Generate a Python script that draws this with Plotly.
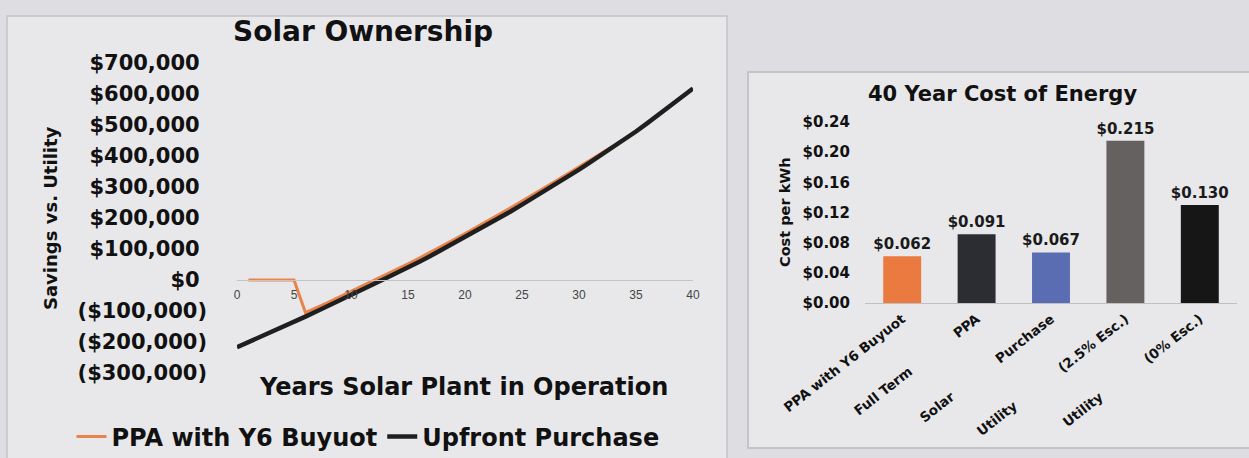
import plotly.graph_objects as go

W, H = 1249, 458

# ---------------- data: left chart (thousands of $) ----------------
years_upfront = list(range(0, 41))
upfront_k = [-217, -201, -185, -168, -152, -135, -118, -101, -84, -66,
             -49, -31, -13, 5, 22, 40, 59, 78, 98, 118,
             138, 158, 179, 200, 221, 243, 265, 287, 310, 333,
             356, 380, 404, 428, 453, 479, 506, 534, 562, 590, 618]
years_ppa = list(range(1, 41))
ppa_k = [0, 0, 0, 0, 0, -105, -89, -72, -54, -37,
         -19, -1, 17, 34, 52, 71, 90, 110, 130, 150,
         170, 191, 212, 233, 254, 276, 298, 320, 342, 364,
         387, 410, 432, 456, 481, 507, 534, 562, 590, 618]

savings_tickvals = [700000, 600000, 500000, 400000, 300000, 200000, 100000, 0,
                    -100000, -200000, -300000]
savings_ticktext = ["$700,000", "$600,000", "$500,000", "$400,000", "$300,000",
                    "$200,000", "$100,000", "$0", "($100,000)", "($200,000)",
                    "($300,000)"]
year_tickvals = [0, 5, 10, 15, 20, 25, 30, 35, 40]

# ---------------- data: right chart ----------------
NB = "\u00a0" * 12
cost_categories = ["PPA with Y6 Buyuot", "Full Term" + NB + "PPA",
                   "Solar" + NB + "Purchase", "Utility" + NB + "(2.5% Esc.)",
                   "Utility" + NB + "(0% Esc.)"]
cost_values = [0.062, 0.091, 0.067, 0.215, 0.130]
cost_labels = ["$0.062", "$0.091", "$0.067", "$0.215", "$0.130"]
cost_colors = ["#EA7A40", "#2B2D32", "#5A6DB3", "#656160", "#161616"]
cost_tickvals = [0, 0.04, 0.08, 0.12, 0.16, 0.20, 0.24]
cost_ticktext = ["$0.00", "$0.04", "$0.08", "$0.12", "$0.16", "$0.20", "$0.24"]


def px(x):
    return x / W


def py(y):
    return 1 - y / H


FONT = "DejaVu Sans"
pad = "\u00a0"

fig = go.Figure()

fig.add_trace(go.Scatter(
    x=years_ppa, y=[v * 1000 for v in ppa_k], mode="lines",
    name="PPA with Y6 Buyuot", line=dict(color="#E8834A", width=3),
    xaxis="x", yaxis="y"))
fig.add_trace(go.Scatter(
    x=years_upfront, y=[v * 1000 for v in upfront_k], mode="lines",
    name="Upfront Purchase", line=dict(color="#1f1f1f", width=4.5),
    xaxis="x", yaxis="y"))

fig.add_trace(go.Bar(
    x=cost_categories, y=cost_values, marker=dict(color=cost_colors, line=dict(width=0)),
    text=cost_labels, textposition="outside", cliponaxis=False, constraintext="none",
    textfont=dict(family=FONT, size=15, weight="bold", color="#1a1a1a"),
    showlegend=False, xaxis="x2", yaxis="y2"))

fig.update_layout(
    template="none",
    width=W, height=H,
    margin=dict(l=0, r=0, t=0, b=0, autoexpand=False),
    paper_bgcolor="#dedee2",
    plot_bgcolor="rgba(0,0,0,0)",
    bargap=0.49,
    xaxis=dict(domain=[px(237), px(693)], range=[0, 40], anchor="free",
               position=py(280), showline=True, linecolor="#c4c4c4", linewidth=1,
               showgrid=False, zeroline=False, tickvals=year_tickvals, ticks="",
               ticklabelstandoff=4, automargin=False,
               tickfont=dict(family="Liberation Sans", size=12, color="#444444")),
    yaxis=dict(domain=[py(373), py(63)], range=[-300000, 700000], anchor="x",
               showgrid=False, zeroline=False, showline=False, ticks="",
               tickvals=savings_tickvals, automargin=False,
               ticktext=[t if t.endswith(")") else t + pad for t in savings_ticktext],
               ticklabelstandoff=29,
               tickfont=dict(family=FONT, size=21, weight="bold", color="#111111")),
    xaxis2=dict(domain=[px(865), px(1237)], anchor="y2", showline=True,
                linecolor="#c0c0c0", linewidth=1, showgrid=False, ticks="",
                tickangle=-38, ticklabelstandoff=2, automargin=False,
                tickfont=dict(family=FONT, size=13.5, weight="bold", color="#111111")),
    yaxis2=dict(domain=[py(303), py(122)], range=[0, 0.24], anchor="x2",
                showgrid=False, zeroline=False, showline=False, ticks="",
                tickvals=cost_tickvals, ticktext=cost_ticktext, ticklabelstandoff=14,
                automargin=False,
                tickfont=dict(family=FONT, size=15, weight="bold", color="#111111")),
    legend=dict(orientation="h", x=px(368), xanchor="center", y=py(437),
                yanchor="middle", bgcolor="rgba(0,0,0,0)",
                font=dict(family=FONT, size=24, weight="bold", color="#111111"),
                itemwidth=30),
    shapes=[
        dict(type="rect", xref="paper", yref="paper", x0=px(7), x1=px(727),
             y0=-0.05, y1=py(16), fillcolor="#e8e8eb",
             line=dict(color="#c4c4c8", width=1.5), layer="below"),
        dict(type="rect", xref="paper", yref="paper", x0=px(748), x1=px(1262),
             y0=py(448), y1=py(72), fillcolor="#e8e8eb",
             line=dict(color="#c4c4c8", width=2), layer="below"),
    ],
    annotations=[
        dict(text="Solar Ownership", x=px(363), y=py(32), xref="paper", yref="paper",
             showarrow=False, xanchor="center", yanchor="middle",
             font=dict(family=FONT, size=28, weight="bold", color="#111111")),
        dict(text="Years Solar Plant in Operation", x=px(463), y=py(387),
             xref="paper", yref="paper", showarrow=False, xanchor="center",
             yanchor="middle",
             font=dict(family=FONT, size=24, weight="bold", color="#111111")),
        dict(text="Savings vs. Utility", x=px(50), y=py(218), xref="paper",
             yref="paper", showarrow=False, textangle=-90, xanchor="center",
             yanchor="middle",
             font=dict(family=FONT, size=18, weight="bold", color="#111111")),
        dict(text="40 Year Cost of Energy", x=px(1002), y=py(94), xref="paper",
             yref="paper", showarrow=False, xanchor="center", yanchor="middle",
             font=dict(family=FONT, size=21, weight="bold", color="#111111")),
        dict(text="Cost per kWh", x=px(785), y=py(212), xref="paper", yref="paper",
             showarrow=False, textangle=-90, xanchor="center", yanchor="middle",
             font=dict(family=FONT, size=14.5, weight="bold", color="#111111")),
    ],
)

fig.write_html("out.html", config={"displayModeBar": False},
               post_script="document.body.style.margin='0px';")
